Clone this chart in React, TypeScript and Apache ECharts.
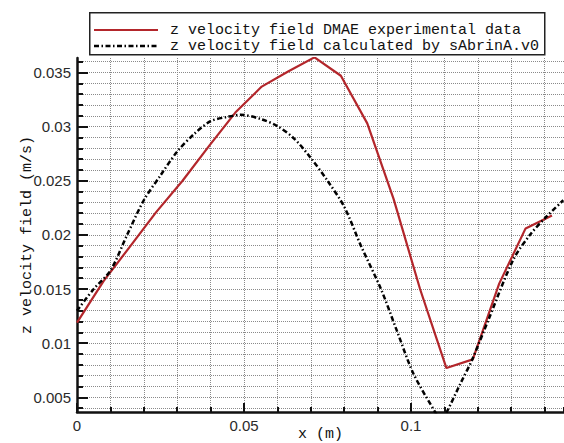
import React, { useEffect, useRef } from "react";
import * as echarts from "echarts";

const expName = "z velocity field DMAE experimental data";
const calcName = "z velocity field calculated by sAbrinA.v0";

const expX = [0, 0.0079, 0.0158, 0.0237, 0.0316, 0.0395, 0.0474, 0.0553, 0.0632, 0.0711, 0.079, 0.0869, 0.0948, 0.1027, 0.1106, 0.1185, 0.1264, 0.1343, 0.1422];
const expY = [0.0119, 0.0157, 0.0189, 0.0221, 0.0250, 0.0282, 0.0313, 0.0337, 0.0351, 0.0364, 0.0347, 0.0303, 0.0233, 0.0150, 0.0077, 0.0085, 0.0155, 0.0206, 0.0218];

const calcX = [0, 0.005, 0.01, 0.015, 0.02, 0.025, 0.03, 0.035, 0.04, 0.045, 0.049, 0.055, 0.06, 0.065, 0.07, 0.075, 0.08, 0.085, 0.091, 0.0957, 0.1007, 0.1072, 0.109, 0.1107, 0.115, 0.1182, 0.1231, 0.1306, 0.1356, 0.1406, 0.1456];
const calcY = [0.0130, 0.0150, 0.0167, 0.0200, 0.0232, 0.0255, 0.0277, 0.0293, 0.0305, 0.0309, 0.0311, 0.0307, 0.03005, 0.0289, 0.0271, 0.0250, 0.0226, 0.0190, 0.0150, 0.0112, 0.0072, 0.00364, 0.0028, 0.00364, 0.0064, 0.0084, 0.0121, 0.0177, 0.0200, 0.0217, 0.0232];

const xMin = 0;
const xMax = 0.1458;
const yMin = 0.00364;
const yMax = 0.03634;
const yMajorTicks = [0.005, 0.01, 0.015, 0.02, 0.025, 0.03, 0.035];
const yMinorTicks = [0.004, 0.005, 0.006, 0.007, 0.008, 0.009, 0.01, 0.011, 0.012, 0.013, 0.014, 0.015, 0.016, 0.017, 0.018, 0.019, 0.02, 0.021, 0.022, 0.023, 0.024, 0.025, 0.026, 0.027, 0.028, 0.029, 0.03, 0.031, 0.032, 0.033, 0.034, 0.035, 0.036];

const expColor = "#b3262b";
const calcColor = "#000";
const calcDash = [5, 2.5, 1.5, 2.5];

export default function App() {
  const ref = useRef<HTMLDivElement>(null);
  useEffect(() => {
    if (!ref.current) return;
    const chart = echarts.init(ref.current, undefined, { renderer: "svg" });
    const labelFont = { fontFamily: "Liberation Sans", fontSize: 15, color: "#2a2a2a" };
    const monoFont = { fontFamily: "Liberation Mono", fontSize: 15, color: "#111" };
    const grid = { type: "dotted" as const, color: "#8a8a8a", width: 1 };
    chart.setOption({
      animation: false,
      backgroundColor: "#fff",
      grid: { left: 77, top: 58, right: 0, bottom: 31, containLabel: false, outerBoundsMode: "none" },
      graphic: [
        {
          type: "rect",
          shape: { x: 89.75, y: 12.75, width: 455, height: 42 },
          style: { fill: "#fff", stroke: "#222", lineWidth: 1.5 },
          z: 10,
        },
        {
          type: "line",
          shape: { x1: 94, y1: 30, x2: 158, y2: 30 },
          style: { stroke: expColor, lineWidth: 2.2 },
          z: 11,
        },
        {
          type: "line",
          shape: { x1: 94, y1: 46, x2: 158, y2: 46 },
          style: { stroke: calcColor, lineWidth: 2.5, lineDash: calcDash },
          z: 11,
        },
        {
          type: "text",
          x: 170,
          y: 30,
          style: { text: expName, font: "15px 'Liberation Mono'", fill: "#111", verticalAlign: "middle", align: "left" },
          z: 11,
        },
        {
          type: "text",
          x: 170,
          y: 46,
          style: { text: calcName, font: "15px 'Liberation Mono'", fill: "#111", verticalAlign: "middle", align: "left" },
          z: 11,
        },
      ],
      xAxis: [
        {
          type: "value",
          min: xMin,
          max: xMax,
          interval: 0.01,
          axisLine: { show: true, onZero: false, lineStyle: { color: "#111", width: 2.5 } },
          axisTick: { show: true, inside: true, length: 5, lineStyle: { color: "#111", width: 2 } },
          axisLabel: { show: false },
          splitLine: { show: true, lineStyle: grid },
          name: "x (m)",
          nameLocation: "middle",
          nameGap: 15,
          nameTextStyle: { ...monoFont, lineHeight: 15 },
        },
        {
          type: "value",
          position: "bottom",
          min: xMin,
          max: xMax,
          interval: 0.05,
          axisLine: { show: false, onZero: false },
          axisTick: { show: true, inside: true, length: 9, lineStyle: { color: "#111", width: 2 } },
          axisLabel: { show: true, margin: 6, showMaxLabel: false, ...labelFont, formatter: (v: number) => String(+v.toFixed(3)) },
          splitLine: { show: false },
        },
      ],
      yAxis: [
        {
          type: "value",
          min: yMin,
          max: yMax,
          axisLine: { show: true, onZero: false, lineStyle: { color: "#111", width: 2.5 } },
          axisTick: { show: true, inside: true, length: 6, customValues: yMinorTicks, lineStyle: { color: "#111", width: 2 } },
          axisLabel: { show: false },
          splitLine: { show: true, lineStyle: grid },
          name: "z velocity field (m/s)",
          nameLocation: "middle",
          nameGap: 42,
          nameTextStyle: monoFont,
        },
        {
          type: "value",
          position: "left",
          min: yMin,
          max: yMax,
          axisLine: { show: false, onZero: false },
          axisTick: { show: true, inside: true, length: 11, customValues: yMajorTicks, lineStyle: { color: "#111", width: 2 } },
          axisLabel: { show: true, margin: 6, customValues: yMajorTicks, ...labelFont, formatter: (v: number) => String(+v.toFixed(4)) },
          splitLine: { show: false },
        },
      ],
      series: [
        {
          name: expName,
          type: "line",
          xAxisIndex: 0,
          yAxisIndex: 0,
          symbol: "none",
          data: expX.map((x, i) => [x, expY[i]]),
          lineStyle: { color: expColor, width: 2.2 },
          itemStyle: { color: expColor },
          z: 3,
        },
        {
          name: calcName,
          type: "line",
          xAxisIndex: 0,
          yAxisIndex: 0,
          symbol: "none",
          smooth: 0.3,
          data: calcX.map((x, i) => [x, calcY[i]]),
          lineStyle: { color: calcColor, width: 2.5, type: calcDash },
          itemStyle: { color: calcColor },
          z: 4,
        },
      ],
    });
    return () => chart.dispose();
  }, []);
  return <div ref={ref} style={{ position: "fixed", left: 0, top: 0, width: 564, height: 443 }} />;
}
